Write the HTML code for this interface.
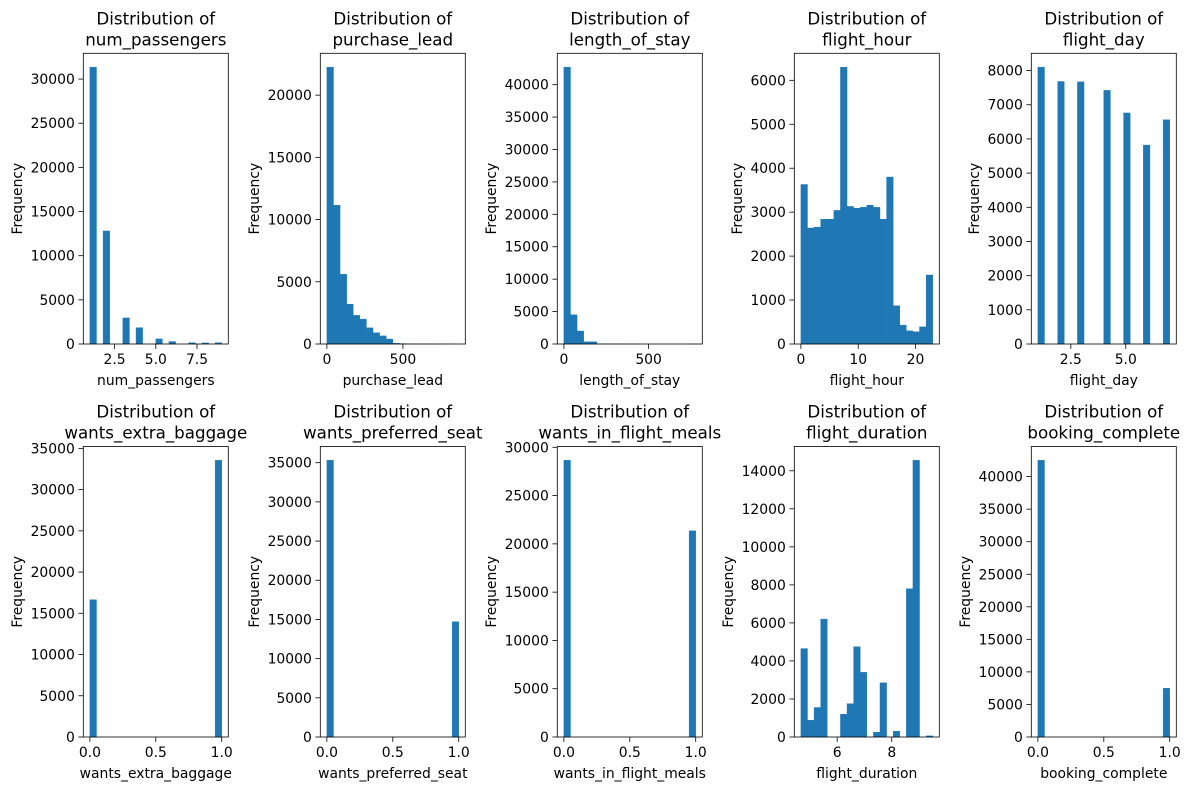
<!DOCTYPE html>
<html><head><meta charset="utf-8"><style>
html,body{margin:0;padding:0;background:#fff;}
svg{display:block;font-family:"DejaVu Sans","Liberation Sans",sans-serif;}
</style></head><body>
<svg id="fig" width="1190" height="790" viewBox="0 0 1190 790" xmlns="http://www.w3.org/2000/svg"></svg>
<script>
// ---- data ----
const names = ["num_passengers","purchase_lead","length_of_stay","flight_hour","flight_day","wants_extra_baggage","wants_preferred_seat","wants_in_flight_meals","flight_duration","booking_complete"];
const mins = [1,0,0,0,1,0,0,0,4.67,0];
const maxs = [9,867,778,23,7,1,1,1,9.5,1];
const c0 = [31350,0,12800,0,0,2950,0,1850,0,0,580,0,280,0,0,140,0,120,0,150];
const c1 = [22250,11150,5600,3200,2300,2000,1300,900,650,400,60,30,10,5,3,2,1,1,0,1];
const c2 = [42700,4500,2000,350,350,30,10,5,3,2,1,1,0,0,0,0,0,0,0,1];
const c3 = [3630,2640,2660,2840,2840,3040,6300,3130,3090,3110,3160,3110,2840,3800,870,430,300,280,390,1570];
const c4 = [8100,0,0,7680,0,0,7670,0,0,0,7420,0,0,6760,0,0,5820,0,0,6560];
const c5 = [16650,0,0,0,0,0,0,0,0,0,0,0,0,0,0,0,0,0,0,33550];
const c6 = [35300,0,0,0,0,0,0,0,0,0,0,0,0,0,0,0,0,0,0,14700];
const c7 = [28650,0,0,0,0,0,0,0,0,0,0,0,0,0,0,0,0,0,0,21350];
const c8 = [4650,880,1550,6200,0,0,1200,1750,4750,3400,0,250,2850,0,300,0,7800,14550,0,60];
const c9 = [42500,0,0,0,0,0,0,0,0,0,0,0,0,0,0,0,0,0,0,7480];
const counts = [c0,c1,c2,c3,c4,c5,c6,c7,c8,c9];
const xTicks0 = [2.5,5.0,7.5], xTicks1 = [0,500], xTicks2 = [0,500], xTicks3 = [0,10,20], xTicks4 = [2.5,5.0];
const xTicksBin = [0.0,0.5,1.0], xTicks8 = [6,8];
const xTickLists = [xTicks0,xTicks1,xTicks2,xTicks3,xTicks4,xTicksBin,xTicksBin,xTicksBin,xTicks8,xTicksBin];
const xTickDigits = [1,0,0,0,1,1,1,1,0,1];
const yStep = [5000,5000,5000,1000,1000,5000,5000,5000,2000,5000];

// ---- layout ----
const NS="http://www.w3.org/2000/svg";
const svg=document.getElementById('fig');
function mk(tag,attrs,parent){const e=document.createElementNS(NS,tag);for(const k in attrs)e.setAttribute(k,attrs[k]);(parent||svg).appendChild(e);return e;}
const lefts=[83.3,320.3,557.3,794.3,1031.3];
const tops=[53.3,446.5], bottoms=[344,737];
const W=145;
for(let i=0;i<10;i++){
  const row=Math.floor(i/5), col=i%5;
  const L=lefts[col], T=tops[row], B=bottoms[row], H=B-T;
  const g=mk('g',{});
  
  
  const mn=mins[i], mx=maxs[i], rng=mx-mn;
  const x0=mn-0.05*rng, x1=mx+0.05*rng;
  const xs=v=>L+(v-x0)/(x1-x0)*W;
  const cs=counts[i];
  const ymax=Math.max(...cs)*1.05;
  const ys=v=>B-v/ymax*H;
  const bw=rng/cs.length;
  cs.forEach((c,j)=>{
    if(c<=0)return;
    const a=xs(mn+j*bw), b=xs(mn+(j+1)*bw);
    const r=mk('rect',{x:a,y:ys(c),width:b-a,height:B-ys(c),fill:'#1f77b4',stroke:'#1f77b4','stroke-width':0.4},g);
    
    
  });
  let maxLabelW=0;
  for(let v=0;v<=ymax;v+=yStep[i]){
    const y=ys(v);
    mk('line',{x1:L-4.9,x2:L,y1:y,y2:y,stroke:'#000','stroke-width':0.8},g);
    const t=mk('text',{x:L-8.5,y:y+5,'text-anchor':'end','font-size':13.9,fill:'#000'},g);
    t.textContent=String(v);
    
    
    maxLabelW=Math.max(maxLabelW,String(v).length);
  }
  xTickLists[i].forEach(v=>{
    const x=xs(v);
    mk('line',{x1:x,x2:x,y1:B,y2:B+4.9,stroke:'#000','stroke-width':0.8},g);
    const t=mk('text',{x:x,y:B+20,'text-anchor':'middle','font-size':13.9,fill:'#000'},g);
    t.textContent=v.toFixed(xTickDigits[i]);
    
    
  });
  mk('rect',{x:L,y:T,width:W,height:H,fill:'none',stroke:'#000','stroke-width':0.8},g);
  const xl=mk('text',{x:L+W/2,y:B+41,'text-anchor':'middle','font-size':13.9,fill:'#000'},g);
  xl.textContent=names[i];
  
  
  const yx=L-(maxLabelW>=5?61.5:52.5);
  const yl=mk('text',{x:yx,y:T+H/2,'text-anchor':'middle','font-size':13.9,fill:'#000',transform:`rotate(-90 ${yx} ${T+H/2})`},g);
  yl.textContent='Frequency';
  
  
  const t1=mk('text',{x:L+W/2,y:T-29,'text-anchor':'middle','font-size':16.7,fill:'#000'},g);
  t1.textContent='Distribution of';
  
  
  const t2=mk('text',{x:L+W/2,y:T-8,'text-anchor':'middle','font-size':16.7,fill:'#000'},g);
  t2.textContent=names[i];
  
  
}
</script>
</body></html>
